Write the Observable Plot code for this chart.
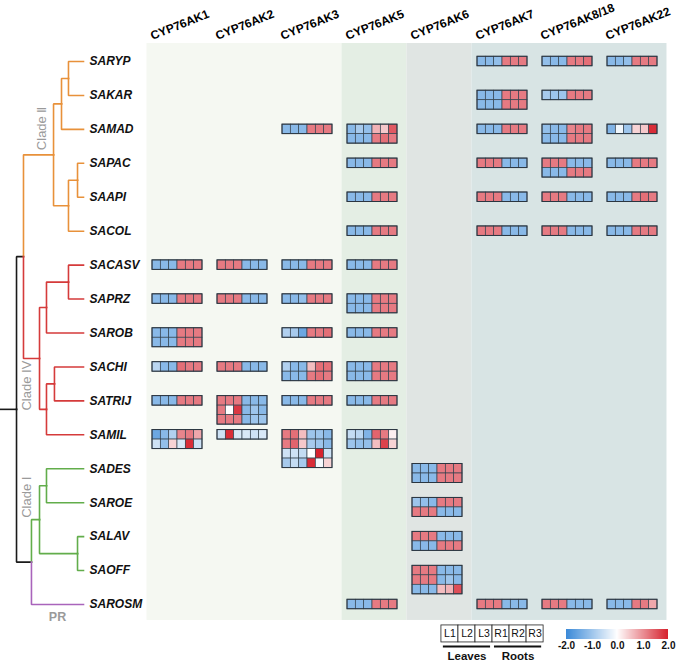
<!DOCTYPE html>
<html><head><meta charset="utf-8">
<script src="https://cdn.jsdelivr.net/npm/d3@7"></script>
<script src="https://cdn.jsdelivr.net/npm/@observablehq/plot@0.6"></script>
<style>
body{margin:0;background:#fff;}
#wrap{position:relative;width:685px;height:664px;overflow:hidden;font-family:"Liberation Sans",Arial,sans-serif;}
#wrap > *{position:absolute;}
#cbar .tick line{display:none;}
</style></head><body><div id="wrap"></div>
<script>
// ---------- data ----------
const columns = ["CYP76AK1","CYP76AK2","CYP76AK3","CYP76AK5","CYP76AK6","CYP76AK7","CYP76AK8/18","CYP76AK22"];
const genes = ["SARYP","SAKAR","SAMAD","SAPAC","SAAPI","SACOL","SACASV","SAPRZ","SAROB","SACHI","SATRIJ","SAMIL","SADES","SAROE","SALAV","SAOFF","SAROSM"];
const tissues = ["L1","L2","L3","R1","R2","R3"];
const organs = ["Leaves","Roots"];
const colorTicks = [-2,-1,0,1,2];
const panelGroups = [["CYP76AK1","CYP76AK3"],["CYP76AK5","CYP76AK5"],["CYP76AK6","CYP76AK6"],["CYP76AK7","CYP76AK22"]];

const blocks = [
 {gene:"SARYP", col:"CYP76AK7", values:[[-1.2,-1.2,-1.1,1.2,1.2,1.2]]},
 {gene:"SARYP", col:"CYP76AK8/18", values:[[-1.1,-1.2,-1.2,1.2,1.2,1.3]]},
 {gene:"SARYP", col:"CYP76AK22", values:[[-1.2,-1.2,-1.1,1.2,1.2,1.2]]},
 {gene:"SAKAR", col:"CYP76AK7", values:[[-1.2,-1.2,-1.2,1.2,1.2,1.2],[-1.2,-1.2,-1.2,1.2,1.2,1.2]]},
 {gene:"SAKAR", col:"CYP76AK8/18", values:[[-0.9,-1.0,-1.0,1.2,1.2,1.2]]},
 {gene:"SAMAD", col:"CYP76AK3", values:[[-1.2,-1.2,-1.2,1.2,1.2,1.2]]},
 {gene:"SAMAD", col:"CYP76AK5", values:[[-1.2,-0.9,-1.1,0.7,0.5,1.5],[-1.2,-1.2,-1.2,1.2,1.3,1.2]]},
 {gene:"SAMAD", col:"CYP76AK7", values:[[-1.2,-1.2,-1.2,1.2,1.2,1.2]]},
 {gene:"SAMAD", col:"CYP76AK8/18", values:[[-1.1,-1.2,-1.2,1.1,1.2,1.2],[-1.2,-1.2,-1.2,1.2,1.2,1.2]]},
 {gene:"SAMAD", col:"CYP76AK22", values:[[-1.3,-0.15,-1.0,0.4,0.5,1.9]]},
 {gene:"SAPAC", col:"CYP76AK5", values:[[-1.2,-1.2,-1.2,1.2,1.2,1.2]]},
 {gene:"SAPAC", col:"CYP76AK7", values:[[1.2,1.2,1.2,-1.2,-1.2,-1.2]]},
 {gene:"SAPAC", col:"CYP76AK8/18", values:[[1.2,1.2,1.2,-1.2,-1.2,-1.2],[-1.2,-1.2,-1.2,1.2,1.2,1.2]]},
 {gene:"SAPAC", col:"CYP76AK22", values:[[-1.2,-1.2,-1.2,1.2,1.2,1.2]]},
 {gene:"SAAPI", col:"CYP76AK5", values:[[-1.2,-1.2,-1.2,1.2,1.2,1.2]]},
 {gene:"SAAPI", col:"CYP76AK7", values:[[1.2,1.2,1.2,-1.2,-1.2,-1.2]]},
 {gene:"SAAPI", col:"CYP76AK8/18", values:[[1.2,1.2,1.2,-1.2,-1.2,-1.2]]},
 {gene:"SAAPI", col:"CYP76AK22", values:[[-1.2,-1.2,-1.2,1.2,1.3,1.2]]},
 {gene:"SACOL", col:"CYP76AK5", values:[[-1.2,-1.2,-1.2,1.2,1.2,1.2]]},
 {gene:"SACOL", col:"CYP76AK7", values:[[1.2,1.2,1.2,-1.2,-1.2,-1.2]]},
 {gene:"SACOL", col:"CYP76AK8/18", values:[[1.2,1.2,1.2,-1.2,-1.2,-1.2]]},
 {gene:"SACOL", col:"CYP76AK22", values:[[-1.2,-1.2,-1.2,1.2,1.2,1.2]]},
 {gene:"SACASV", col:"CYP76AK1", values:[[-1.2,-1.2,-1.2,1.2,1.2,1.2]]},
 {gene:"SACASV", col:"CYP76AK2", values:[[1.2,1.2,1.2,-1.2,-1.2,-1.2]]},
 {gene:"SACASV", col:"CYP76AK3", values:[[-1.2,-1.2,-1.2,1.2,1.2,1.2]]},
 {gene:"SACASV", col:"CYP76AK5", values:[[-1.2,-1.2,-1.2,1.2,1.2,1.2]]},
 {gene:"SAPRZ", col:"CYP76AK1", values:[[-1.2,-1.2,-1.2,1.2,1.2,1.2]]},
 {gene:"SAPRZ", col:"CYP76AK2", values:[[1.2,1.2,1.2,-1.2,-1.2,-1.2]]},
 {gene:"SAPRZ", col:"CYP76AK3", values:[[-1.2,-1.2,-1.1,1.2,1.2,1.2]]},
 {gene:"SAPRZ", col:"CYP76AK5", values:[[-1.2,-1.2,-1.2,1.2,1.2,1.2],[-1.2,-1.2,-1.2,1.2,1.2,1.2]]},
 {gene:"SAROB", col:"CYP76AK1", values:[[-1.2,-1.2,-1.2,1.2,1.2,1.2],[-1.2,-1.2,-1.2,1.2,1.2,1.2]]},
 {gene:"SAROB", col:"CYP76AK3", values:[[-0.8,-0.9,-1.5,1.2,1.2,1.3]]},
 {gene:"SAROB", col:"CYP76AK5", values:[[-1.2,-1.2,-1.2,1.2,1.2,1.2]]},
 {gene:"SACHI", col:"CYP76AK1", values:[[-0.7,-1.2,-1.2,1.3,1.2,1.2]]},
 {gene:"SACHI", col:"CYP76AK2", values:[[1.2,1.2,1.2,-1.2,-1.2,-1.2]]},
 {gene:"SACHI", col:"CYP76AK3", values:[[-0.8,-1.2,-1.2,0.6,1.3,1.3],[-1.2,-1.2,-1.2,1.2,1.3,1.2]]},
 {gene:"SACHI", col:"CYP76AK5", values:[[-1.2,-1.2,-1.2,1.2,1.2,1.2],[-1.2,-1.2,-1.2,1.2,1.2,1.2]]},
 {gene:"SATRIJ", col:"CYP76AK1", values:[[-1.2,-1.2,-1.2,1.2,1.2,1.2]]},
 {gene:"SATRIJ", col:"CYP76AK2", values:[[1.2,1.2,1.2,-1.2,-1.2,-1.2],[1.2,0.0,1.8,-1.2,-1.0,-1.2],[1.2,1.2,1.2,-1.2,-1.0,-1.0]]},
 {gene:"SATRIJ", col:"CYP76AK3", values:[[-1.2,-1.2,-1.2,1.2,1.2,1.2]]},
 {gene:"SATRIJ", col:"CYP76AK5", values:[[-1.2,-1.2,-1.2,1.2,1.2,1.2]]},
 {gene:"SAMIL", col:"CYP76AK1", values:[[-1.5,-1.2,-0.8,1.1,1.2,0.8],[-0.5,-1.1,0.4,-0.4,1.9,-0.5]]},
 {gene:"SAMIL", col:"CYP76AK2", values:[[-0.5,1.9,-0.4,-0.4,-0.5,-0.4]]},
 {gene:"SAMIL", col:"CYP76AK3", values:[[1.2,1.3,0.6,-1.0,-1.0,-1.2],[1.2,1.4,0.5,-0.9,-1.0,-1.2],[-0.5,-0.5,-0.6,0.0,2.0,-0.5],[-0.9,-0.6,-0.9,1.9,-0.1,0.4]]},
 {gene:"SAMIL", col:"CYP76AK5", values:[[-0.6,-0.7,-1.3,1.4,1.2,0.15],[-1.0,-1.1,-1.1,0.6,1.7,0.4]]},
 {gene:"SADES", col:"CYP76AK6", values:[[-1.2,-1.2,-1.2,1.2,1.2,1.2],[-1.2,-1.2,-1.2,1.2,1.2,1.2]]},
 {gene:"SAROE", col:"CYP76AK6", values:[[-1.0,-1.1,-1.2,1.2,1.2,1.2],[1.2,1.2,1.2,-1.2,-1.2,-1.2]]},
 {gene:"SALAV", col:"CYP76AK6", values:[[1.2,1.2,1.2,-1.2,-1.2,-1.2],[-1.2,-1.2,-1.2,1.2,1.2,1.2]]},
 {gene:"SAOFF", col:"CYP76AK6", values:[[1.2,1.2,1.2,-1.2,-1.2,-1.2],[1.2,1.2,1.2,-1.2,-1.0,-1.2],[-1.2,-1.2,-1.2,0.6,0.7,1.6]]},
 {gene:"SAROSM", col:"CYP76AK5", values:[[-1.2,-1.2,-1.2,1.2,1.2,1.2]]},
 {gene:"SAROSM", col:"CYP76AK7", values:[[1.2,1.2,1.2,-1.2,-1.2,-1.2]]},
 {gene:"SAROSM", col:"CYP76AK8/18", values:[[1.2,1.2,1.2,-1.2,-1.2,-1.2]]},
 {gene:"SAROSM", col:"CYP76AK22", values:[[-1.2,-1.2,-1.2,1.2,1.2,0.8]]}
];

// tree: d = node depth (tree units, leaves at 10)
const tree = {d:1.93, children:[
  {d:2.77, children:[
    {name:"Clade II", clade:"II", d:6.39, children:[
      {d:7.35, children:[{d:8.19, children:[{name:"SARYP"},{name:"SAKAR"}]},{name:"SAMAD"}]},
      {d:8.19, children:[{d:9.28, children:[{name:"SAPAC"},{name:"SAAPI"}]},{name:"SACOL"}]}
    ]},
    {name:"Clade IV", clade:"IV", d:4.7, children:[
      {d:5.54, children:[{d:8.19, children:[{name:"SACASV"},{name:"SAPRZ"}]},{name:"SAROB"}]},
      {d:5.54, children:[{d:6.5, children:[{name:"SACHI"},{name:"SATRIJ"}]},{name:"SAMIL"}]}
    ]}
  ]},
  {name:"B", d:3.73, children:[
    {name:"Clade I", clade:"I", d:4.7, children:[
      {d:5.54, children:[{name:"SADES"},{name:"SAROE"}]},
      {d:9.28, children:[{name:"SALAV"},{name:"SAOFF"}]}
    ]},
    {name:"SAROSM", clade:"PR"}
  ]}
]};

// ---------- layout helpers ----------
const font = '"Liberation Sans", Arial, sans-serif';
const ci = c => columns.indexOf(c), gi = g => genes.indexOf(g);
const cw = 0.1282, ch = 0.28, top0 = -0.14;
const panelTop = -0.53, panelBottom = 16.47;
const blue = "#3b8ad8", red = "#d6222e";
const interp = t => t < 0.5 ? d3.interpolateRgb(blue, "#ffffff")(t * 2) : d3.interpolateRgb("#ffffff", red)(t * 2 - 1);
const colorScale = {type: "linear", domain: [-2, 2], interpolate: interp};

const cells = blocks.flatMap(b => b.values.flatMap((row, s) => row.map((v, i) => ({gene: b.gene, col: b.col, s, i, v}))));
const panelFills = ["#f5f8f2", "#e4eee4", "#e0e5e3", "#d8e4e4"];

const xScale = {domain: [0, 8], range: [152, 672]};
const yScale = {domain: [0, 16], range: [61, 604]};

const lx0 = 4.445, lbw = 0.262;
const lbTop = 16.617, lbBot = 17.118;

const main = Plot.plot({
  width: 685, height: 664,
  x: {...xScale, axis: null},
  y: {...yScale, axis: null},
  color: colorScale,
  style: {fontFamily: font, background: "white", overflow: "visible"},
  marks: [
    ...panelGroups.map((p, k) => Plot.rect([p], {
      x1: d => ci(d[0]) - 0.085, x2: d => ci(d[1]) + 0.915,
      y1: panelTop, y2: panelBottom, fill: panelFills[k]
    })),
    Plot.rect(cells, {
      x1: d => ci(d.col) + d.i * cw, x2: d => ci(d.col) + (d.i + 1) * cw,
      y1: d => gi(d.gene) + top0 + d.s * ch, y2: d => gi(d.gene) + top0 + (d.s + 1) * ch,
      fill: "v", stroke: "#35434f", strokeWidth: 0.7
    }),
    Plot.rect(blocks, {
      x1: d => ci(d.col), x2: d => ci(d.col) + 6 * cw,
      y1: d => gi(d.gene) + top0, y2: d => gi(d.gene) + top0 + d.values.length * ch,
      fill: "none", stroke: "#2a3540", strokeWidth: 1
    }),
    Plot.text(columns, {
      x: (d, i) => i, y: panelTop - 0.1, text: d => d,
      rotate: -22, textAnchor: "start", lineAnchor: "bottom",
      fontWeight: "bold", fontSize: 12, fill: "#000"
    }),
    // tissue key
    Plot.rect(tissues, {
      x1: (d, i) => lx0 + i * lbw, x2: (d, i) => lx0 + (i + 1) * lbw,
      y1: lbTop, y2: lbBot, fill: "white", stroke: "#222", strokeWidth: 0.8
    }),
    Plot.text(tissues, {
      x: (d, i) => lx0 + (i + 0.5) * lbw, y: (lbTop + lbBot) / 2, text: d => d,
      fontSize: 10.5, fill: "#111"
    }),
    Plot.ruleY(organs, {
      y: lbBot + 0.12,
      x1: (d, i) => lx0 + i * 3 * lbw + 0.03, x2: (d, i) => lx0 + (i + 1) * 3 * lbw - 0.03,
      stroke: "#111", strokeWidth: 1.8
    }),
    Plot.text(organs, {
      x: (d, i) => lx0 + (i * 3 + 1.5) * lbw, y: lbBot + 0.42, text: d => d,
      fontWeight: "bold", fontSize: 11.5, fill: "#111"
    })
  ]
});
main.style.left = "0px"; main.style.top = "0px";

// ---------- tree ----------
const root = d3.hierarchy(tree);
root.eachAfter(n => {
  n.px = n.children ? n.data.d : 10;
  n.py = n.children ? (n.children[0].py + n.children[n.children.length - 1].py) / 2 : gi(n.data.name);
});
root.eachBefore(n => { n.clade = n.data.clade || (n.parent ? n.parent.clade : null); });
const cladeColors = {II: "#e8913a", IV: "#d53b3b", I: "#62ad4b", PR: "#a964bb"};
const edgePts = [];
root.descendants().forEach((n, k) => {
  if (!n.parent) {
    edgePts.push({id: k, x: 0, y: n.py, c: null}, {id: k, x: n.px, y: n.py, c: null});
  } else {
    const p = n.parent;
    edgePts.push({id: k, x: p.px, y: p.py, c: n.clade}, {id: k, x: p.px, y: n.py, c: n.clade}, {id: k, x: n.px, y: n.py, c: n.clade});
  }
});
const findNode = name => root.descendants().find(n => n.data.name === name);
const cII = findNode("Clade II"), cIV = findNode("Clade IV"), cI = findNode("Clade I"), pr = findNode("SAROSM");
const cladeLabels = [
  {text: "Clade Ⅱ", x: (cII.parent.px + cII.px) / 2 + 0.35, y: cII.py - 0.78},
  {text: "Clade IV", x: cIV.parent.px + 0.42, y: cIV.py + 0.8},
  {text: "Clade I", x: cI.parent.px - 0.57, y: cI.py - 0.66}
];

const treePlot = Plot.plot({
  width: 146, height: 664,
  x: {domain: [0, 10], range: [0, 83], axis: null},
  y: {...yScale, axis: null},
  style: {fontFamily: font, background: "transparent", overflow: "visible"},
  marks: [
    ...[null, "II", "IV", "I", "PR"].map(c => Plot.line(edgePts.filter(e => e.c === c), {
      x: "x", y: "y", z: "id", stroke: c ? cladeColors[c] : "#1a1a1a", strokeWidth: 1.6,
      strokeLinejoin: "miter", strokeLinecap: "square"
    })),
    Plot.text(root.leaves(), {
      x: "px", y: "py", text: d => d.data.name, dx: 6, textAnchor: "start",
      fontWeight: "bold", fontStyle: "italic", fontSize: 12, fill: "#111"
    }),
    Plot.text(cladeLabels, {
      x: "x", y: "y", text: "text", rotate: -90,
      fontSize: 13, fill: "#9a9a9a"
    }),
    Plot.text([pr], {
      x: d => (d.parent.px + d.px) / 2, y: d => d.py + 0.38, text: () => "PR",
      fontSize: 12.5, fontWeight: "bold", fill: "#9a9a9a"
    })
  ]
});
treePlot.style.left = "0px"; treePlot.style.top = "0px";

// ---------- colour bar ----------
const cbar = document.createElement("div");
cbar.id = "cbar";
cbar.style.left = "555px"; cbar.style.top = "625px";
cbar.appendChild(Plot.legend({
  color: colorScale, label: null,
  width: 124, height: 32, marginTop: 4, marginBottom: 18, marginLeft: 11, marginRight: 11,
  ticks: colorTicks, tickSize: 0, tickFormat: d => d.toFixed(1),
  style: {fontFamily: font, fontSize: "10px", fontWeight: "bold", color: "#111", background: "transparent", overflow: "visible"}
}));

const wrap = document.getElementById("wrap");
wrap.appendChild(main);
wrap.appendChild(treePlot);
wrap.appendChild(cbar);
</script></body></html>
